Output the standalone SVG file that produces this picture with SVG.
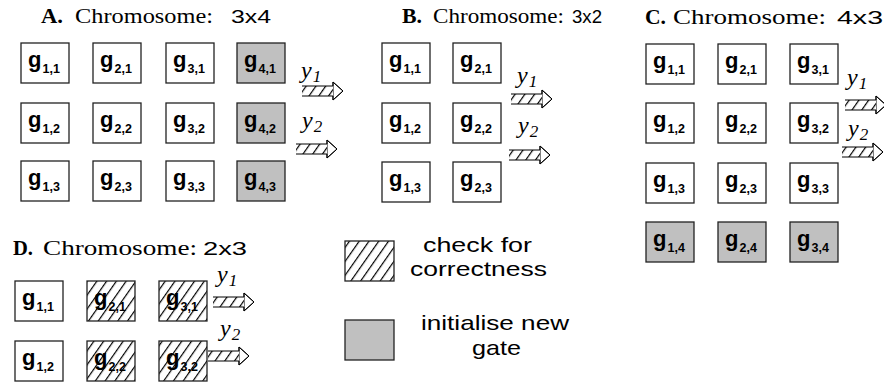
<svg xmlns="http://www.w3.org/2000/svg" width="884" height="383" viewBox="0 0 884 383">
  <style>
    .box { fill: #ffffff; stroke: #222222; stroke-width: 1.3; }
    .new { fill: #c0c0c0; stroke: #222222; stroke-width: 1.3; }
    .chk { fill: url(#hatch); stroke: #222222; stroke-width: 1.3; }
    .g { font-family: "Liberation Sans", Arial, sans-serif; font-weight: bold; font-size: 22px; fill: #000; }
    .sub { font-size: 12.5px; }
    .ttl { font-family: "Liberation Serif", "Times New Roman", serif; font-size: 20px; fill: #000; }
    .ttl-w { font-size: 21px; }
    .ttl-b { font-weight: bold; }
    .dim { font-family: "Liberation Sans", Arial, sans-serif; font-size: 19px; fill: #000; }
    .y { font-family: "Liberation Serif", "Times New Roman", serif; font-style: italic; font-size: 24px; fill: #000; }
    .ys { font-size: 17px; }
    .leg { font-family: "Liberation Sans", Arial, sans-serif; font-size: 21px; fill: #000; }
    .arr-shaft { fill: url(#hatch); stroke: none; }
    .arr-line { fill: #ffffff; stroke: #000; stroke-width: 1; stroke-linejoin: miter; }
  </style>
  <defs>
    <pattern id="hatch" patternUnits="userSpaceOnUse" width="8" height="10" patternTransform="rotate(35)">
      <rect width="8" height="10" fill="#ffffff"/>
      <line x1="0.6" y1="0" x2="0.6" y2="10" stroke="#000" stroke-width="1.2"/>
    </pattern>
    <!-- hatched block arrow, origin at the shaft's left end, centred vertically -->
    <g id="harrow">
      <path class="arr-line" d="M31,-5 V-9 L41,0 L31,9 V5 Z"/>
      <rect class="arr-shaft" x="0" y="-5" width="31" height="10"/>
      <path d="M0,-5 H31 V-9 L41,0 L31,9 V5 H0" fill="none" stroke="#000" stroke-width="1"/>
    </g>
  </defs>

  <!-- ===== Panel A: 3x4 ===== -->
  <g id="titleA">
    <text class="ttl ttl-b" x="41" y="23" textLength="22" lengthAdjust="spacingAndGlyphs">A.</text>
    <text class="ttl ttl-w" x="75" y="23" textLength="138" lengthAdjust="spacingAndGlyphs">Chromosome:</text>
    <text class="dim" x="231" y="23" textLength="40" lengthAdjust="spacingAndGlyphs">3x4</text>
  </g>
  <g id="A_g11"><rect class="box" x="21" y="43" width="48" height="40"/><text class="g" x="28" y="67">g<tspan class="sub" dx="1" dy="6">1,1</tspan></text></g>
  <g id="A_g21"><rect class="box" x="93" y="43" width="48" height="40"/><text class="g" x="100" y="67">g<tspan class="sub" dx="1" dy="6">2,1</tspan></text></g>
  <g id="A_g31"><rect class="box" x="166" y="43" width="48" height="40"/><text class="g" x="173" y="67">g<tspan class="sub" dx="1" dy="6">3,1</tspan></text></g>
  <g id="A_g41"><rect class="new" x="237" y="43" width="48" height="40"/><text class="g" x="244" y="67">g<tspan class="sub" dx="1" dy="6">4,1</tspan></text></g>
  <g id="A_g12"><rect class="box" x="21" y="103" width="48" height="40"/><text class="g" x="28" y="127">g<tspan class="sub" dx="1" dy="6">1,2</tspan></text></g>
  <g id="A_g22"><rect class="box" x="93" y="103" width="48" height="40"/><text class="g" x="100" y="127">g<tspan class="sub" dx="1" dy="6">2,2</tspan></text></g>
  <g id="A_g32"><rect class="box" x="166" y="103" width="48" height="40"/><text class="g" x="173" y="127">g<tspan class="sub" dx="1" dy="6">3,2</tspan></text></g>
  <g id="A_g42"><rect class="new" x="237" y="103" width="48" height="40"/><text class="g" x="244" y="127">g<tspan class="sub" dx="1" dy="6">4,2</tspan></text></g>
  <g id="A_g13"><rect class="box" x="21" y="161" width="48" height="40"/><text class="g" x="28" y="185">g<tspan class="sub" dx="1" dy="6">1,3</tspan></text></g>
  <g id="A_g23"><rect class="box" x="93" y="161" width="48" height="40"/><text class="g" x="100" y="185">g<tspan class="sub" dx="1" dy="6">2,3</tspan></text></g>
  <g id="A_g33"><rect class="box" x="166" y="161" width="48" height="40"/><text class="g" x="173" y="185">g<tspan class="sub" dx="1" dy="6">3,3</tspan></text></g>
  <g id="A_g43"><rect class="new" x="237" y="161" width="48" height="40"/><text class="g" x="244" y="185">g<tspan class="sub" dx="1" dy="6">4,3</tspan></text></g>

  <!-- ===== Panel B: 3x2 ===== -->
  <g id="titleB">
    <text class="ttl ttl-b" x="402" y="23" textLength="20" lengthAdjust="spacingAndGlyphs">B.</text>
    <text class="ttl ttl-w" x="433" y="23" textLength="131" lengthAdjust="spacingAndGlyphs">Chromosome:</text>
    <text class="dim" x="572" y="23" textLength="30" lengthAdjust="spacingAndGlyphs">3x2</text>
  </g>
  <g id="B_g11"><rect class="box" x="382" y="43" width="48" height="40"/><text class="g" x="389" y="67">g<tspan class="sub" dx="1" dy="6">1,1</tspan></text></g>
  <g id="B_g21"><rect class="box" x="453" y="43" width="48" height="40"/><text class="g" x="460" y="67">g<tspan class="sub" dx="1" dy="6">2,1</tspan></text></g>
  <g id="B_g12"><rect class="box" x="382" y="103" width="48" height="40"/><text class="g" x="389" y="127">g<tspan class="sub" dx="1" dy="6">1,2</tspan></text></g>
  <g id="B_g22"><rect class="box" x="453" y="103" width="48" height="40"/><text class="g" x="460" y="127">g<tspan class="sub" dx="1" dy="6">2,2</tspan></text></g>
  <g id="B_g13"><rect class="box" x="382" y="162" width="48" height="40"/><text class="g" x="389" y="186">g<tspan class="sub" dx="1" dy="6">1,3</tspan></text></g>
  <g id="B_g23"><rect class="box" x="453" y="162" width="48" height="40"/><text class="g" x="460" y="186">g<tspan class="sub" dx="1" dy="6">2,3</tspan></text></g>

  <!-- ===== Panel C: 4x3 ===== -->
  <g id="titleC">
    <text class="ttl ttl-b" x="645" y="24" textLength="21" lengthAdjust="spacingAndGlyphs">C.</text>
    <text class="ttl ttl-w" x="673" y="24" textLength="153" lengthAdjust="spacingAndGlyphs">Chromosome:</text>
    <text class="dim" x="837" y="24" textLength="46" lengthAdjust="spacingAndGlyphs">4x3</text>
  </g>
  <g id="C_g11"><rect class="box" x="646" y="44" width="48" height="40"/><text class="g" x="653" y="68">g<tspan class="sub" dx="1" dy="6">1,1</tspan></text></g>
  <g id="C_g21"><rect class="box" x="718" y="44" width="48" height="40"/><text class="g" x="725" y="68">g<tspan class="sub" dx="1" dy="6">2,1</tspan></text></g>
  <g id="C_g31"><rect class="box" x="790" y="44" width="48" height="40"/><text class="g" x="797" y="68">g<tspan class="sub" dx="1" dy="6">3,1</tspan></text></g>
  <g id="C_g12"><rect class="box" x="646" y="103" width="48" height="40"/><text class="g" x="653" y="127">g<tspan class="sub" dx="1" dy="6">1,2</tspan></text></g>
  <g id="C_g22"><rect class="box" x="718" y="103" width="48" height="40"/><text class="g" x="725" y="127">g<tspan class="sub" dx="1" dy="6">2,2</tspan></text></g>
  <g id="C_g32"><rect class="box" x="790" y="103" width="48" height="40"/><text class="g" x="797" y="127">g<tspan class="sub" dx="1" dy="6">3,2</tspan></text></g>
  <g id="C_g13"><rect class="box" x="646" y="163" width="48" height="40"/><text class="g" x="653" y="187">g<tspan class="sub" dx="1" dy="6">1,3</tspan></text></g>
  <g id="C_g23"><rect class="box" x="718" y="163" width="48" height="40"/><text class="g" x="725" y="187">g<tspan class="sub" dx="1" dy="6">2,3</tspan></text></g>
  <g id="C_g33"><rect class="box" x="790" y="163" width="48" height="40"/><text class="g" x="797" y="187">g<tspan class="sub" dx="1" dy="6">3,3</tspan></text></g>
  <g id="C_g14"><rect class="new" x="646" y="222" width="48" height="40"/><text class="g" x="653" y="246">g<tspan class="sub" dx="1" dy="6">1,4</tspan></text></g>
  <g id="C_g24"><rect class="new" x="718" y="222" width="48" height="40"/><text class="g" x="725" y="246">g<tspan class="sub" dx="1" dy="6">2,4</tspan></text></g>
  <g id="C_g34"><rect class="new" x="790" y="222" width="48" height="40"/><text class="g" x="797" y="246">g<tspan class="sub" dx="1" dy="6">3,4</tspan></text></g>

  <!-- ===== Panel D: 2x3 ===== -->
  <g id="titleD">
    <text class="ttl ttl-b" x="13" y="255" textLength="20" lengthAdjust="spacingAndGlyphs">D.</text>
    <text class="ttl ttl-w" x="43" y="255" textLength="154" lengthAdjust="spacingAndGlyphs">Chromosome:</text>
    <text class="dim" x="203" y="255" textLength="44" lengthAdjust="spacingAndGlyphs">2x3</text>
  </g>
  <g id="D_g11"><rect class="box" x="15" y="281" width="48" height="40"/><text class="g" x="22" y="305">g<tspan class="sub" dx="1" dy="6">1,1</tspan></text></g>
  <g id="D_g21"><rect class="chk" x="87" y="281" width="48" height="40"/><text class="g" x="94" y="305">g<tspan class="sub" dx="1" dy="6">2,1</tspan></text></g>
  <g id="D_g31"><rect class="chk" x="159" y="281" width="48" height="40"/><text class="g" x="166" y="305">g<tspan class="sub" dx="1" dy="6">3,1</tspan></text></g>
  <g id="D_g12"><rect class="box" x="15" y="341" width="48" height="40"/><text class="g" x="22" y="365">g<tspan class="sub" dx="1" dy="6">1,2</tspan></text></g>
  <g id="D_g22"><rect class="chk" x="87" y="341" width="48" height="40"/><text class="g" x="94" y="365">g<tspan class="sub" dx="1" dy="6">2,2</tspan></text></g>
  <g id="D_g32"><rect class="chk" x="159" y="341" width="48" height="40"/><text class="g" x="166" y="365">g<tspan class="sub" dx="1" dy="6">3,2</tspan></text></g>

  <!-- ===== Output connectors ===== -->
  <g id="connectors">
    <use href="#harrow" x="302" y="91"/>
    <use href="#harrow" x="296" y="149"/>
    <use href="#harrow" x="511" y="99"/>
    <use href="#harrow" x="509" y="155"/>
    <use href="#harrow" x="845" y="105"/>
    <use href="#harrow" x="842" y="152"/>
    <use href="#harrow" x="213" y="302"/>
    <use href="#harrow" x="208" y="356"/>
    <text class="y" x="301" y="78">y<tspan class="ys" dx="1" dy="4">1</tspan></text>
    <text class="y" x="302" y="128">y<tspan class="ys" dx="1" dy="4">2</tspan></text>
    <text class="y" x="517" y="83">y<tspan class="ys" dx="1" dy="4">1</tspan></text>
    <text class="y" x="518" y="133">y<tspan class="ys" dx="1" dy="4">2</tspan></text>
    <text class="y" x="847" y="85">y<tspan class="ys" dx="1" dy="4">1</tspan></text>
    <text class="y" x="848" y="136">y<tspan class="ys" dx="1" dy="4">2</tspan></text>
    <text class="y" x="217" y="282">y<tspan class="ys" dx="1" dy="4">1</tspan></text>
    <text class="y" x="220" y="336">y<tspan class="ys" dx="1" dy="4">2</tspan></text>
  </g>

  <!-- ===== Legend ===== -->
  <g id="legend_check">
    <rect class="chk" x="345" y="241" width="49" height="40"/>
    <text class="leg" x="423" y="252" textLength="109" lengthAdjust="spacingAndGlyphs">check for</text>
    <text class="leg" x="410" y="276" textLength="137" lengthAdjust="spacingAndGlyphs">correctness</text>
  </g>
  <g id="legend_new">
    <rect class="new" x="345" y="320" width="49" height="40"/>
    <text class="leg" x="421" y="330" textLength="148" lengthAdjust="spacingAndGlyphs">initialise new</text>
    <text class="leg" x="472" y="355" textLength="49" lengthAdjust="spacingAndGlyphs">gate</text>
  </g>
</svg>
